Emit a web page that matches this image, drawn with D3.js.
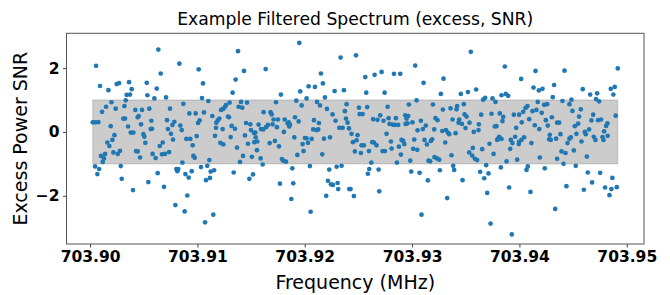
<!DOCTYPE html>
<html>
<head>
<meta charset="utf-8">
<script src="https://cdn.jsdelivr.net/npm/d3@7"></script>
<style>
  body { margin: 0; background: #fff; }
  svg { display: block; }
</style>
</head>
<body>
<svg></svg>
<script>
const width = 670;
const height = 295;

// [frequency (MHz), excess power SNR] in six frequency bands
const bandA = [
  [703.90056,2.07],[703.90093,1.44],[703.90171,1.31],[703.90248,1.50],[703.90270,1.53],[703.90363,1.56],[703.90388,1.34],[703.90341,1.16],[703.90372,1.17],[703.90332,0.99],
  [703.90528,1.54],[703.90534,1.15],[703.90599,1.05],[703.90199,0.93],[703.90149,0.79],[703.90112,0.63],[703.90239,0.73],[703.90320,0.81],[703.90422,0.69],[703.90484,0.69],
  [703.90453,0.50],[703.90444,0.46],[703.90552,0.73],[703.90310,0.42],[703.90326,0.42],[703.90571,0.35],[703.90025,0.30],[703.90050,0.30],[703.90078,0.31],[703.90192,0.18],
  [703.90354,0.17],[703.90475,0.24],[703.90577,0.10],[703.90565,0.09],[703.90379,-0.02],[703.90403,-0.02],[703.90497,-0.07],[703.90506,-0.15],[703.90227,-0.10],[703.90208,-0.25],
  [703.90161,-0.33],[703.90180,-0.44],[703.90515,-0.34],[703.90217,-0.64],[703.90258,-0.69],[703.90279,-0.59],[703.90428,-0.60],[703.90444,-0.61],[703.90583,-0.69],[703.90102,-0.75],
  [703.90140,-0.69],[703.90130,-0.83],[703.90118,-0.94],[703.90466,-0.80],[703.90611,-0.82],[703.90047,-1.08],[703.90084,-1.16],[703.90068,-1.32],[703.90286,-1.07],[703.90295,-1.47],
  [703.90543,-1.57],[703.90400,-1.82]
];
const bandB = [
  [703.90636,2.58],[703.90832,2.14],[703.90658,1.83],[703.91012,1.96],[703.91052,1.52],[703.90621,1.36],[703.90708,1.08],[703.91043,1.06],[703.91102,0.97],[703.90869,0.88],
  [703.90745,0.73],[703.90925,0.58],[703.90984,0.58],[703.91061,0.61],[703.91021,0.36],[703.91006,0.28],[703.90717,0.37],[703.90785,0.32],[703.90767,0.22],[703.90841,0.20],
  [703.90854,0.06],[703.90726,0.09],[703.90754,-0.06],[703.90773,-0.24],[703.90897,-0.22],[703.90934,-0.22],[703.90993,-0.13],[703.90677,-0.33],[703.90649,-0.44],[703.90956,-0.42],
  [703.90670,-0.70],[703.90698,-0.69],[703.90736,-0.63],[703.90962,-0.75],[703.90975,-0.81],[703.91111,-0.88],[703.90860,-0.96],[703.90630,-1.29],[703.90804,-1.16],[703.90822,-1.16],
  [703.90813,-1.23],[703.90888,-1.32],[703.90919,-1.43],[703.90947,-1.23],[703.91034,-1.10],[703.91092,-1.06],[703.91124,-1.24],[703.91155,-1.20],[703.91117,-1.44],[703.91080,-1.51],
  [703.90689,-1.72],[703.90906,-1.99],[703.90795,-2.29],[703.90881,-2.49],[703.91148,-2.59],[703.91071,-2.83],
  [703.91378,2.53],[703.91434,1.91],[703.91356,1.64],[703.91328,1.23],[703.91406,0.94],[703.91462,0.92],[703.91300,0.92],[703.91266,0.84],[703.91257,0.79],[703.91241,0.72],
  [703.91220,0.69],[703.91384,0.79],[703.91418,0.76],[703.91139,0.50],[703.91204,0.42],[703.91189,0.36],[703.91176,0.29],[703.91285,0.48],[703.91294,0.46],[703.91453,0.28],
  [703.91493,0.24],[703.91319,0.19],[703.91350,0.10],[703.91173,0.13],[703.91235,0.09],[703.91499,0.06],[703.91527,-0.03],[703.91164,-0.12],[703.91443,-0.11],[703.91310,-0.16],
  [703.91214,-0.34],[703.91241,-0.39],[703.91471,-0.37],[703.91530,-0.32],[703.91369,-0.49],[703.91425,-0.75],[703.91508,-0.78],[703.91397,-0.94],[703.91338,-1.27],[703.91518,-1.33],
  [703.91484,-1.47]
];
const bandC = [
  [703.91949,2.79],[703.91636,1.97],[703.92334,2.33],[703.92151,1.83],[703.92169,1.52],[703.92036,1.43],[703.92095,1.41],[703.91778,1.17],[703.91958,1.27],[703.92278,1.28],
  [703.92365,1.31],[703.91921,0.98],[703.91971,0.83],[703.92017,1.05],[703.91732,0.93],[703.92114,0.94],[703.92142,0.83],[703.92188,1.08],[703.92207,0.72],[703.92390,0.87],
  [703.92374,0.65],[703.91617,0.62],[703.91682,0.62],[703.91692,0.55],[703.91570,0.23],[703.91540,-0.02],[703.91592,0.09],[703.91614,0.08],[703.91639,0.15],[703.91657,0.22],
  [703.91543,-0.17],[703.91558,-0.30],[703.91710,0.39],[703.91750,0.39],[703.91701,0.24],[703.91741,0.15],[703.91813,0.39],[703.91840,0.27],[703.91856,0.17],[703.91862,0.23],
  [703.91850,0.30],[703.91806,0.00],[703.91909,0.46],[703.91943,0.33],[703.91903,-0.17],[703.91673,-0.35],[703.91722,-0.28],[703.91760,-0.45],[703.91555,-0.57],[703.91589,-0.83],
  [703.91608,-1.02],[703.91788,-0.85],[703.91800,-0.90],[703.91825,-0.93],[703.92002,-0.19],[703.92017,-0.20],[703.91980,-0.38],[703.92030,-0.34],[703.92064,-0.22],[703.91989,-0.60],
  [703.91931,-0.72],[703.92079,0.08],[703.92110,0.06],[703.92126,0.08],[703.92086,0.37],[703.92132,0.28],[703.92179,-0.21],[703.92235,-0.17],[703.92163,-0.70],[703.92259,0.55],
  [703.92287,0.35],[703.92322,0.13],[703.92353,0.13],[703.92384,0.42],[703.92399,0.29],[703.92412,0.11],[703.92048,-1.07],[703.91884,-1.14],[703.91769,-1.62],[703.91893,-1.61],
  [703.91875,-2.10],[703.92055,-2.50],[703.92200,-2.00],[703.92228,-1.18],[703.92297,-1.09],[703.92343,-1.06],[703.92216,-1.53],[703.92244,-1.64],[703.92263,-1.66],[703.92306,-1.60],
  [703.92312,-1.79],[703.92415,-1.79]
];
const bandD = [
  [703.92477,2.40],[703.92564,1.72],[703.92651,1.79],[703.92716,1.88],[703.92831,1.82],[703.92890,1.82],[703.93029,2.08],[703.93107,1.54],[703.93293,1.67],[703.92573,1.23],
  [703.92744,1.23],[703.93268,1.19],[703.93042,0.99],[703.92970,0.86],[703.93194,0.86],[703.92505,0.76],[703.92582,0.78],[703.92511,0.56],[703.92539,0.56],[703.92772,0.79],
  [703.92703,0.52],[703.92638,0.40],[703.92678,0.38],[703.92734,0.35],[703.92781,0.43],[703.92849,0.43],[703.92790,0.25],[703.92818,0.23],[703.92840,0.22],[703.92871,0.22],
  [703.92936,0.52],[703.92964,0.50],[703.92948,0.42],[703.92958,0.27],[703.92939,0.25],[703.93004,0.30],[703.93082,0.35],[703.93128,0.20],[703.93100,0.09],[703.93051,0.05],
  [703.93218,0.43],[703.93237,0.37],[703.93287,0.70],[703.93206,0.08],[703.93281,0.03],[703.92436,-0.06],[703.92492,-0.10],[703.92483,-0.26],[703.92449,-0.32],[703.92529,-0.42],
  [703.92551,-0.42],[703.92467,-0.61],[703.92523,-0.66],[703.92598,-0.60],[703.92629,-0.32],[703.92645,-0.33],[703.92669,-0.42],[703.92725,-0.60],[703.92747,-0.60],[703.92762,-0.06],
  [703.92803,-0.30],[703.92809,-0.52],[703.92877,-0.46],[703.92902,-0.25],[703.92917,-0.28],[703.92927,-0.38],[703.92896,-0.71],[703.93020,-0.24],[703.93010,-0.53],[703.93048,-0.56],
  [703.93116,-0.25],[703.93138,-0.39],[703.93175,-0.28],[703.93187,-0.23],[703.93309,-0.33],[703.92859,-0.96],[703.92983,-0.90],[703.93153,-0.90],[703.93169,-0.92],[703.93209,-0.79],
  [703.93231,-0.83],[703.93253,-0.87],[703.92620,-0.96],[703.92601,-1.16],[703.92588,-1.31],[703.92688,-1.18],[703.92992,-1.24],[703.93070,-1.28],[703.93259,-1.20],[703.93147,-1.52],
  [703.92427,-1.79],[703.92458,-2.01],[703.92694,-1.86],[703.93088,-2.59]
];
const bandE = [
  [703.93547,2.51],[703.93864,2.05],[703.94150,1.91],[703.94016,1.66],[703.93454,1.19],[703.93520,1.25],[703.93597,1.33],[703.93833,1.15],[703.93873,1.19],[703.93895,1.13],
  [703.94131,1.39],[703.94181,1.30],[703.93662,1.01],[703.93681,1.07],[703.93749,1.05],[703.93777,0.94],[703.93482,0.87],[703.93420,0.81],[703.93414,0.71],[703.93358,0.74],
  [703.93489,0.55],[703.93507,0.48],[703.93377,0.39],[703.93439,0.39],[703.93433,0.29],[703.93464,0.25],[703.93498,0.12],[703.93535,0.29],[703.93644,0.54],[703.93740,0.57],
  [703.93817,0.58],[703.93849,0.47],[703.93842,0.34],[703.93948,0.54],[703.93997,0.54],[703.94035,0.63],[703.94057,0.75],[703.94075,0.81],[703.94122,0.65],[703.94159,0.69],
  [703.94171,0.94],[703.94091,0.40],[703.94022,0.30],[703.93622,0.24],[703.93771,0.17],[703.93786,0.18],[703.93970,0.13],[703.94143,0.21],[703.94185,0.09],[703.93315,0.06],
  [703.93333,-0.02],[703.93346,-0.07],[703.93405,-0.04],[703.93619,0.06],[703.93575,0.00],[703.93367,-0.73],[703.93532,-0.64],[703.93560,-0.74],[703.93585,-0.84],[703.93606,-0.88],
  [703.93566,-0.50],[703.93653,-0.54],[703.93721,-0.37],[703.93759,-0.69],[703.93799,-0.22],[703.93811,-0.15],[703.93793,-0.25],[703.93833,-0.22],[703.93920,-0.25],[703.93935,-0.35],
  [703.93914,-0.53],[703.93960,-0.15],[703.93997,-0.31],[703.93994,-0.38],[703.94019,-0.25],[703.94044,-0.17],[703.94112,-0.35],[703.94190,-0.80],[703.93880,-0.92],[703.93979,-0.87],
  [703.93827,-1.11],[703.93690,-1.04],[703.93634,-1.25],[703.93712,-1.30],[703.93672,-1.45],[703.93383,-1.06],[703.93392,-1.19],[703.93470,-1.51],[703.93327,-2.07],[703.93700,-1.91],
  [703.93904,-1.74],[703.94078,-1.08],[703.94066,-1.19],[703.94103,-1.88],[703.93731,-2.87],[703.93929,-3.21]
];
const bandF = [
  [703.94420,1.92],[703.94916,1.99],[703.94215,1.35],[703.94323,1.47],[703.94311,1.09],[703.94590,1.34],[703.94659,1.17],[703.94724,1.21],[703.94714,1.03],[703.94742,0.96],
  [703.94851,1.35],[703.94888,1.41],[703.94875,1.17],[703.94230,0.85],[703.94258,0.87],[703.94401,0.97],[703.94485,1.01],[703.94466,0.87],[703.94208,0.60],[703.94494,0.66],
  [703.94572,0.71],[703.94687,0.54],[703.94897,0.51],[703.94246,0.37],[703.94264,0.20],[703.94302,0.46],[703.94351,0.29],[703.94370,0.29],[703.94556,0.48],[703.94547,0.26],
  [703.94516,0.18],[703.94531,-0.06],[703.94578,-0.30],[703.94609,0.00],[703.94618,-0.07],[703.94649,0.08],[703.94671,0.36],[703.94733,0.37],[703.94761,0.39],[703.94820,0.27],
  [703.94808,0.19],[703.94789,0.02],[703.94822,-0.12],[703.94774,-0.16],[703.94783,-0.25],[703.94693,-0.15],[703.94708,-0.25],[703.94283,-0.09],[703.94277,-0.23],[703.94292,-0.25],
  [703.94342,-0.21],[703.94382,-0.07],[703.94448,-0.35],[703.94466,-0.21],[703.94479,-0.17],[703.94392,-0.61],[703.94429,-0.66],[703.94507,-0.58],[703.94628,-0.77],[703.94351,-0.84],
  [703.94411,-1.00],[703.94525,-1.06],[703.94236,-1.14],[703.94637,-1.27],[703.94752,-1.28],[703.94866,-1.44],[703.94677,-1.58],[703.94438,-1.70],[703.94600,-1.81],[703.94798,-1.74],
  [703.94857,-1.79],[703.94907,-1.73],[703.94839,-1.98],[703.94333,-2.41]
];

const band = [-1, 1];               // shaded +/-1 SNR region
const freqTicks = [703.90, 703.91, 703.92, 703.93, 703.94, 703.95];
const snrTicks = [-2, 0, 2];

const points = [].concat(bandA, bandB, bandC, bandD, bandE, bandF);

const plot = { left: 66.5, right: 644, top: 33.3, bottom: 244 };

// matplotlib style 5% margins around the data
function padded(ext) {
  const pad = (ext[1] - ext[0]) * 0.05;
  return [ext[0] - pad, ext[1] + pad];
}
const fExt = d3.extent(points, d => d[0]);
const sExt = d3.extent(points, d => d[1]);

const x = d3.scaleLinear().domain(padded(fExt)).range([plot.left, plot.right]);
const y = d3.scaleLinear().domain(padded(sExt)).range([plot.bottom, plot.top]);

const svg = d3.select("svg")
  .attr("width", width)
  .attr("height", height)
  .style("font-family", "'DejaVu Sans', sans-serif");

svg.append("rect").attr("width", width).attr("height", height).attr("fill", "#fff");

// shaded band across the data range
svg.append("rect")
  .attr("x", x(fExt[0]))
  .attr("y", y(band[1]))
  .attr("width", x(fExt[1]) - x(fExt[0]))
  .attr("height", y(band[0]) - y(band[1]))
  .attr("fill", "gray")
  .attr("fill-opacity", 0.4)
  .attr("stroke", "gray")
  .attr("stroke-opacity", 0.4)
  .attr("stroke-width", 1);

svg.append("g")
  .selectAll("circle")
  .data(points)
  .enter()
  .append("circle")
  .attr("cx", d => x(d[0]))
  .attr("cy", d => y(d[1]))
  .attr("r", 2.35)
  .attr("fill", "#1f77b4");

// frame
svg.append("rect")
  .attr("x", plot.left)
  .attr("y", plot.top)
  .attr("width", plot.right - plot.left)
  .attr("height", plot.bottom - plot.top)
  .attr("fill", "none")
  .attr("stroke", "#555")
  .attr("stroke-width", 1);

const xAxis = svg.append("g")
  .attr("transform", `translate(0,${plot.bottom})`)
  .call(d3.axisBottom(x).tickValues(freqTicks).tickFormat(d3.format(".2f")).tickSize(3.5).tickPadding(3.5));

const yAxis = svg.append("g")
  .attr("transform", `translate(${plot.left},0)`)
  .call(d3.axisLeft(y).tickValues(snrTicks).tickFormat(d3.format("d")).tickSize(3.5).tickPadding(3.5));

[xAxis, yAxis].forEach(g => {
  g.select(".domain").remove();
  g.selectAll(".tick line").attr("stroke", "#444");
  g.selectAll(".tick text")
    .attr("fill", "#000")
    .style("font-family", "'DejaVu Sans', sans-serif")
    .style("font-size", "15.5px")
    .style("font-weight", "bold");
});

svg.append("text")
  .attr("x", (plot.left + plot.right) / 2)
  .attr("y", 25)
  .attr("text-anchor", "middle")
  .style("font-size", "17.2px")
  .text("Example Filtered Spectrum (excess, SNR)");

svg.append("text")
  .attr("x", (plot.left + plot.right) / 2)
  .attr("y", 289)
  .attr("text-anchor", "middle")
  .style("font-size", "19px")
  .text("Frequency (MHz)");

svg.append("text")
  .attr("transform", `translate(27,${(plot.top + plot.bottom) / 2}) rotate(-90)`)
  .attr("text-anchor", "middle")
  .style("font-size", "19px")
  .text("Excess Power SNR");
</script>
</body>
</html>
